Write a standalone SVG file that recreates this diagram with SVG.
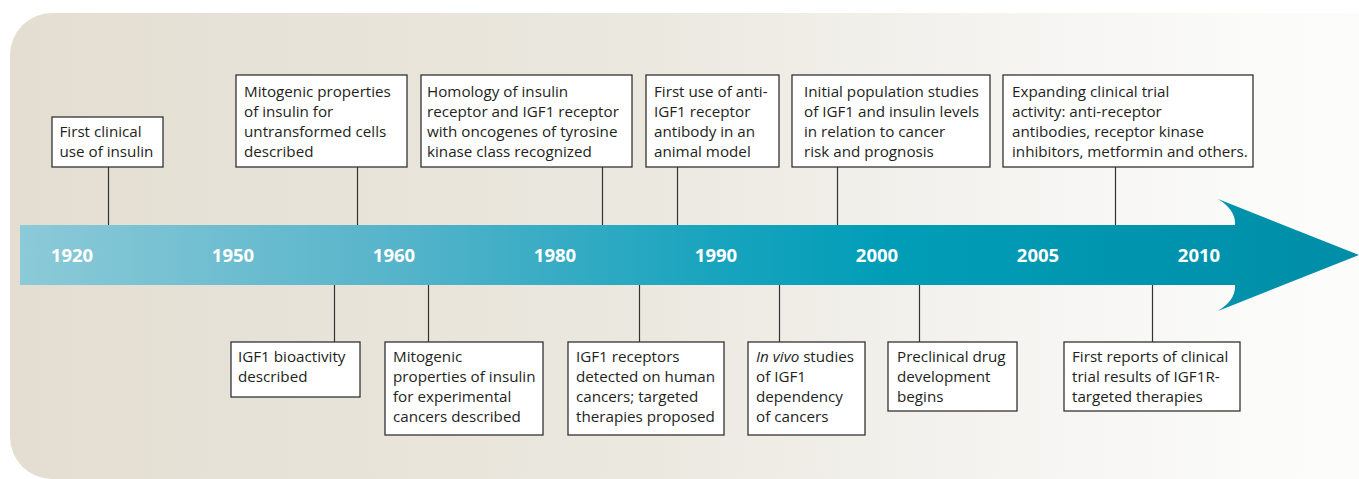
<svg xmlns="http://www.w3.org/2000/svg" width="1359" height="479" viewBox="0 0 1359 479">
<defs>
<linearGradient id="bg" x1="0" y1="0" x2="1" y2="0">
<stop offset="0" stop-color="#e4ded2"/>
<stop offset="0.45" stop-color="#ebe8df"/>
<stop offset="0.72" stop-color="#f5f4f1"/>
<stop offset="0.9" stop-color="#fbfbfa"/>
<stop offset="1" stop-color="#fdfdfd"/>
</linearGradient>
<linearGradient id="band" gradientUnits="userSpaceOnUse" x1="20" y1="0" x2="1359" y2="0">
<stop offset="0" stop-color="#8ccad8"/>
<stop offset="0.28" stop-color="#56b4ca"/>
<stop offset="0.52" stop-color="#18a4be"/>
<stop offset="0.65" stop-color="#019db7"/>
<stop offset="1" stop-color="#008da7"/>
</linearGradient>
<style>
.box{fill:#fff;stroke:#333;stroke-width:1.3}
.t{font-family:"Open Sans","Noto Sans","Liberation Sans",sans-serif;font-size:15.2px;fill:#231f20}
.yr{font-family:"Open Sans","Noto Sans","Liberation Sans",sans-serif;font-size:18.5px;font-weight:bold;fill:#fff;text-anchor:middle}
.c{stroke:#333;stroke-width:1.2;fill:none}
</style>
</defs>
<rect x="0" y="0" width="1359" height="479" fill="#fff"/>
<rect x="10" y="13" width="1400" height="466" rx="42" ry="42" fill="url(#bg)"/>
<g id="arrow">
<path d="M20,225 H1235 Q1236,210 1218,199 L1359,255 L1218,311 Q1236,300 1235,285 H20 Z" fill="url(#band)"/>
<text class="yr" x="72" y="262">1920</text>
<text class="yr" x="233" y="262">1950</text>
<text class="yr" x="394" y="262">1960</text>
<text class="yr" x="555" y="262">1980</text>
<text class="yr" x="716" y="262">1990</text>
<text class="yr" x="877" y="262">2000</text>
<text class="yr" x="1038" y="262">2005</text>
<text class="yr" x="1199" y="262">2010</text>
</g>
<g id="connectors">
<line class="c" x1="108.5" y1="167" x2="108.5" y2="225"/>
<line class="c" x1="357.5" y1="167" x2="357.5" y2="225"/>
<line class="c" x1="602.5" y1="167" x2="602.5" y2="225"/>
<line class="c" x1="677.5" y1="167" x2="677.5" y2="225"/>
<line class="c" x1="837.5" y1="167" x2="837.5" y2="225"/>
<line class="c" x1="1115.5" y1="167" x2="1115.5" y2="225"/>
<line class="c" x1="334.5" y1="285" x2="334.5" y2="342"/>
<line class="c" x1="428.5" y1="285" x2="428.5" y2="342"/>
<line class="c" x1="639.5" y1="285" x2="639.5" y2="342"/>
<line class="c" x1="779.5" y1="285" x2="779.5" y2="342"/>
<line class="c" x1="919.5" y1="285" x2="919.5" y2="342"/>
<line class="c" x1="1152.5" y1="285" x2="1152.5" y2="342"/>
</g>
<g id="n1920">
<rect class="box" x="52" y="117" width="111" height="50"/>
<text class="t" x="59.5"><tspan x="59.5" y="137">First clinical</tspan><tspan x="59.5" y="157">use of insulin</tspan></text>
</g>
<g id="nMitoUntransformed">
<rect class="box" x="236" y="75" width="171" height="92"/>
<text class="t"><tspan x="244" y="97">Mitogenic properties</tspan><tspan x="244" y="117">of insulin for</tspan><tspan x="244" y="137">untransformed cells</tspan><tspan x="244" y="157">described</tspan></text>
</g>
<g id="nHomology">
<rect class="box" x="421" y="75" width="211" height="92"/>
<text class="t"><tspan x="427" y="97">Homology of insulin</tspan><tspan x="427" y="117">receptor and IGF1 receptor</tspan><tspan x="427" y="137">with oncogenes of tyrosine</tspan><tspan x="427" y="157">kinase class recognized</tspan></text>
</g>
<g id="nAntibody">
<rect class="box" x="646" y="75" width="133" height="92"/>
<text class="t"><tspan x="654" y="97">First use of anti-</tspan><tspan x="654" y="117">IGF1 receptor</tspan><tspan x="654" y="137">antibody in an</tspan><tspan x="654" y="157">animal model</tspan></text>
</g>
<g id="nPopulation">
<rect class="box" x="792" y="75" width="198" height="92"/>
<text class="t"><tspan x="804" y="97">Initial population studies</tspan><tspan x="804" y="117">of IGF1 and insulin levels</tspan><tspan x="804" y="137">in relation to cancer</tspan><tspan x="804" y="157">risk and prognosis</tspan></text>
</g>
<g id="nExpanding">
<rect class="box" x="1003" y="75" width="250" height="92"/>
<text class="t"><tspan x="1012" y="97">Expanding clinical trial</tspan><tspan x="1012" y="117">activity: anti-receptor</tspan><tspan x="1012" y="137">antibodies, receptor kinase</tspan><tspan x="1012" y="157">inhibitors, metformin and others.</tspan></text>
</g>
<g id="nBioactivity">
<rect class="box" x="231" y="342" width="129" height="55"/>
<text class="t"><tspan x="238" y="362">IGF1 bioactivity</tspan><tspan x="238" y="382">described</tspan></text>
</g>
<g id="nMitoExperimental">
<rect class="box" x="385" y="342" width="158" height="93"/>
<text class="t"><tspan x="393" y="362">Mitogenic</tspan><tspan x="393" y="382">properties of insulin</tspan><tspan x="393" y="402">for experimental</tspan><tspan x="393" y="422">cancers described</tspan></text>
</g>
<g id="nReceptors">
<rect class="box" x="568" y="342" width="156" height="93"/>
<text class="t"><tspan x="576" y="362">IGF1 receptors</tspan><tspan x="576" y="382">detected on human</tspan><tspan x="576" y="402">cancers; targeted</tspan><tspan x="576" y="422">therapies proposed</tspan></text>
</g>
<g id="nInVivo">
<rect class="box" x="748" y="342" width="117" height="93"/>
<text class="t"><tspan x="756" y="362"><tspan font-style="italic">In vivo</tspan> studies</tspan><tspan x="756" y="382">of IGF1</tspan><tspan x="756" y="402">dependency</tspan><tspan x="756" y="422">of cancers</tspan></text>
</g>
<g id="nPreclinical">
<rect class="box" x="888" y="342" width="129" height="69"/>
<text class="t"><tspan x="897" y="362">Preclinical drug</tspan><tspan x="897" y="382">development</tspan><tspan x="897" y="402">begins</tspan></text>
</g>
<g id="nFirstReports">
<rect class="box" x="1064" y="342" width="176" height="69"/>
<text class="t"><tspan x="1072" y="362">First reports of clinical</tspan><tspan x="1072" y="382">trial results of IGF1R-</tspan><tspan x="1072" y="402">targeted therapies</tspan></text>
</g>
</svg>
